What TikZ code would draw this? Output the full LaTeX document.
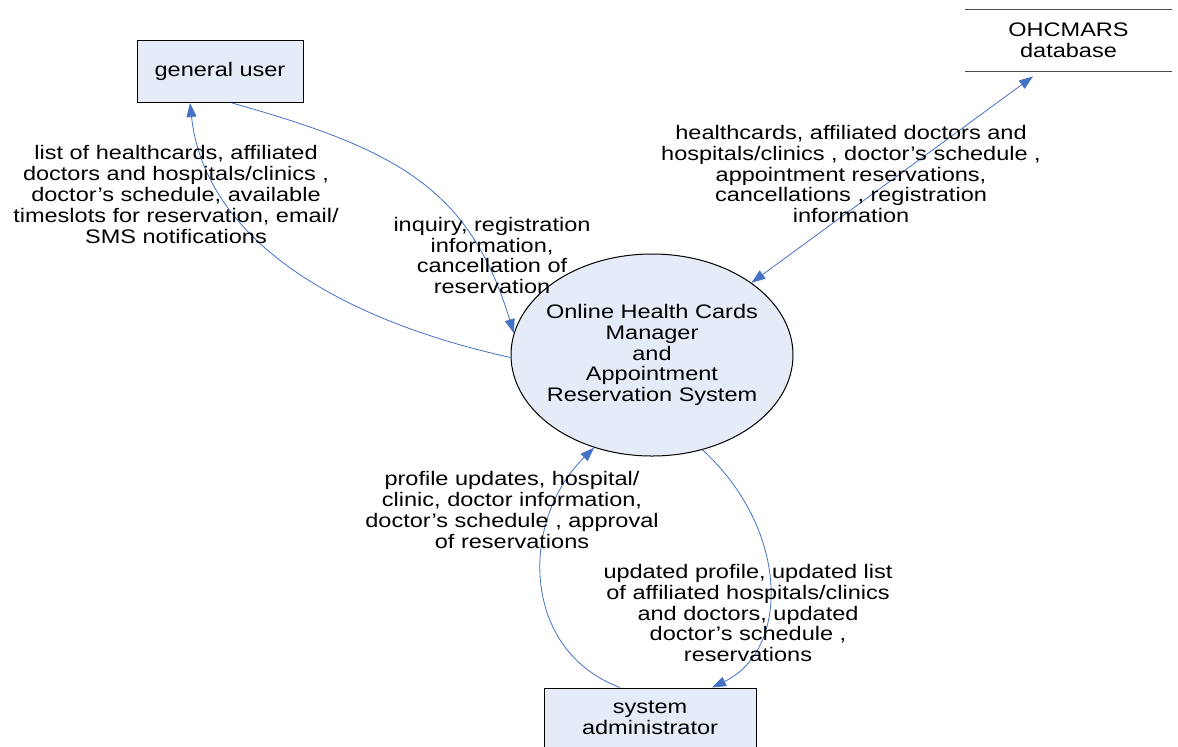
\documentclass[tikz,border=0pt]{standalone}
\usepackage{fontspec}
\setmainfont{Liberation Sans}[FakeStretch=1.2]
\usetikzlibrary{arrows.meta,shapes.geometric}
\definecolor{boxfill}{RGB}{230,236,247}
\definecolor{flowblue}{RGB}{68,114,196}

\begin{document}
\begin{tikzpicture}[x=0.5pt, y=-0.5pt,
    >={Triangle[length=7pt,width=5pt]},
    every node/.style={font=\fontsize{9.8}{10.4}\selectfont},
    entity/.style={draw, fill=boxfill, line width=0.5pt, minimum width=83pt, minimum height=31pt, align=center, inner sep=0pt},
    flow/.style={draw=flowblue, line width=0.4pt, ->},
    lbl/.style={align=center, inner sep=0pt}]
  \clip (0,0) rectangle (1178,746);
  \fill[white] (0,0) rectangle (1178,746);

  % external entities and data store
  \node[entity] (user) at (220,71.5) {general user};
  \node[entity, minimum width=106pt, minimum height=30pt] (admin) at (650,718) {system\\administrator};
  \node[lbl, minimum width=103.5pt, minimum height=30.5pt] (db) at (1068.5,40.5) {OHCMARS\\database};
  \draw[line width=0.5pt, black!70] (db.north west) -- (db.north east);
  \draw[line width=0.5pt, black!70] (db.south west) -- (db.south east);

  % the process
  \node[ellipse, draw, fill=boxfill, line width=0.5pt, minimum width=141pt, minimum height=101pt, inner sep=0pt,
        label={[lbl]center:Online Health Cards\\Manager\\and\\Appointment\\Reservation System}] (sys) at (652,355) {};

  % data flows
  \draw[flow] (sys.181) .. controls (340,320) and (205,240) .. ([xshift=-15pt]user.south);
  \draw[flow] ([xshift=6pt]user.south) .. controls (400,150) and (470,190) .. (sys.171);
  \draw[flow, <->] (sys.36) -- ([xshift=-17.75pt,yshift=-2.5pt]db.south);
  \draw[flow] ([xshift=-15pt]admin.north) .. controls (520,650) and (520,520) .. (sys.238);
  \draw[flow] (sys.298) .. controls (790,530) and (790,650) .. ([xshift=31pt]admin.north);

  % flow labels
  \node[lbl] (toUser) at (176,194.5) {list of healthcards, affiliated\\doctors and hospitals/clinics ,\\doctor’s schedule, available\\timeslots for reservation, email/\\SMS notifications};
  \node[lbl] (fromUser) at (492,255.5) {inquiry, registration\\information,\\cancellation of\\reservation};
  \node[lbl] (toDb) at (851,174) {healthcards, affiliated doctors and\\hospitals/clinics , doctor’s schedule ,\\appointment reservations,\\cancellations , registration\\information};
  \node[lbl] (fromAdmin) at (512,510) {profile updates, hospital/\\clinic, doctor information,\\doctor’s schedule , approval\\of reservations};
  \node[lbl] (toAdmin) at (748,613) {updated profile, updated list\\of affiliated hospitals/clinics\\and doctors, updated\\doctor’s schedule ,\\reservations};
\end{tikzpicture}
\end{document}
